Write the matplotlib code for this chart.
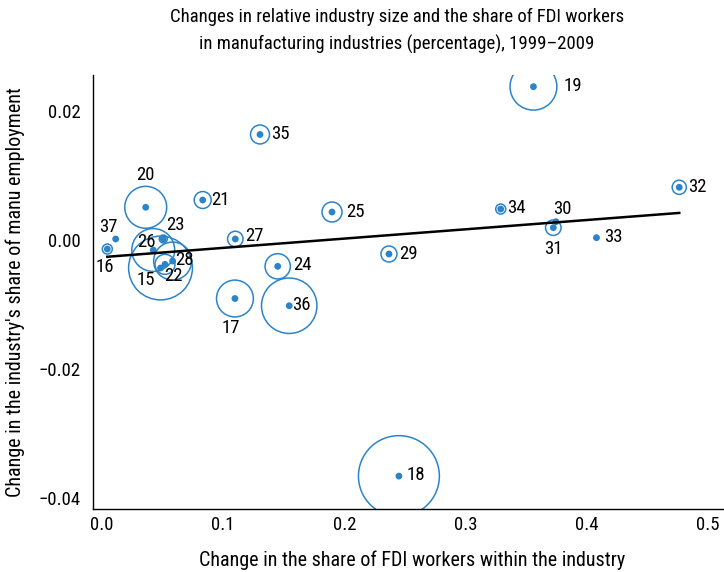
import matplotlib
matplotlib.use("Agg")
import matplotlib.pyplot as plt
from matplotlib import font_manager
import numpy as np

# ---------------- data ----------------
industries = ["15", "16", "17", "18", "19", "20", "21", "22", "23", "24", "25", "26",
              "27", "28", "29", "30", "31", "32", "33", "34", "35", "36", "37"]
fdi_change = [0.0483, 0.0044, 0.1097, 0.2450, 0.3560, 0.0361, 0.0831, 0.0520, 0.0506,
              0.1450, 0.1898, 0.0423, 0.1100, 0.0583, 0.2368, 0.3746, 0.3724, 0.4763,
              0.4080, 0.3290, 0.1304, 0.1545, 0.0113]
share_change = [-0.00434, -0.00140, -0.00907, -0.03660, 0.02377, 0.00507, 0.00620,
                -0.00377, 0.00016, -0.00408, 0.00434, -0.00155, 0.00016, -0.00326,
                -0.00217, 0.00284, 0.00191, 0.00817, 0.00036, 0.00480, 0.01636,
                -0.01019, 0.00016]
# relative industry size (bubble area, arbitrary units)
industry_size = [10.2, 0.25, 3.4, 16.4, 5.5, 4.4, 0.72, 1.0, 0.16, 1.6, 1.0, 4.6,
                 0.6, 3.6, 0.64, 0.04, 0.6, 0.5, 0.04, 0.25, 0.9, 7.7, 0.04]
trend_intercept = -0.00266
trend_slope = 0.0144

# ---------------- fonts ----------------
avail = {f.name for f in font_manager.fontManager.ttflist}
fam = [f for f in ["Liberation Sans Narrow", "Roboto Condensed", "DejaVu Sans"] if f in avail]
plt.rcParams["font.family"] = fam + ["DejaVu Sans"]

blue = "#2b84c9"
FS = 13.5
FS_AX = 14.5

fig = plt.figure(figsize=(7.24, 5.72), dpi=100)
ax = fig.add_axes([93 / 724, 1 - 509 / 572, (723 - 93) / 724, (509 - 75) / 572])

x = np.array(fdi_change)
y = np.array(share_change)
w = np.array(industry_size)

# bubble rings: area proportional to industry size
ax.scatter(x, y, s=w * 207, facecolors="none", edgecolors=blue, linewidths=1.1, zorder=2)
# centre dots
ax.scatter(x, y, s=24, color=blue, edgecolors="none", zorder=3)

# trend line over the data range
xl = np.array([x.min(), x.max()])
ax.plot(xl, trend_intercept + trend_slope * xl, color="black", lw=1.8, zorder=4)

# label offsets in pixels (dx, dy) with dy positive upward
offsets = {
    "15": (-15, -12), "16": (-2, -18), "17": (-4, -29), "18": (17, 1), "19": (39, 1),
    "20": (0, 32), "21": (18, 0), "22": (8, -12), "23": (12, 14), "24": (25, 1),
    "25": (23, 0), "26": (-7, 8), "27": (19, 3), "28": (12, 1), "29": (19, 0),
    "30": (6, 13), "31": (0, -21), "32": (18, 0), "33": (17, 1), "34": (16, 1),
    "35": (20, 0), "36": (12, 1), "37": (-7, 12),
}
for lab, xi, yi in zip(industries, x, y):
    dx, dy = offsets[lab]
    ax.annotate(lab, (xi, yi), xytext=(dx, dy), textcoords="offset pixels",
                ha="center", va="center", fontsize=FS, color="black", zorder=5)

ax.set_xlim(-0.0074, 0.5124)
ax.set_ylim(-0.0417, 0.02558)
ax.set_xticks([0.0, 0.1, 0.2, 0.3, 0.4, 0.5])
ax.set_xticklabels(["0.0", "0.1", "0.2", "0.3", "0.4", "0.5"])
ax.set_yticks([-0.04, -0.02, 0.0, 0.02])
ax.set_yticklabels(["\u22120.04", "\u22120.02", "0.00", "0.02"])
ax.tick_params(axis="both", length=0, labelsize=FS)
ax.tick_params(axis="x", pad=5)
ax.tick_params(axis="y", pad=9)
for sp in ["top", "right"]:
    ax.spines[sp].set_visible(False)
for sp in ["left", "bottom"]:
    ax.spines[sp].set_linewidth(1.0)
    ax.spines[sp].set_color("black")

fig.text(412 / 724, 1 - 560 / 572, "Change in the share of FDI workers within the industry",
         ha="center", va="center", fontsize=FS_AX)
fig.text(15 / 724, 1 - 292 / 572, "Change in the industry's share of manu employment",
         ha="center", va="center", rotation=90, fontsize=FS_AX)

fig.text(397 / 724, 1 - 17 / 572, "Changes in relative industry size and the share of FDI workers",
         ha="center", va="center", fontsize=FS)
fig.text(397 / 724, 1 - 44 / 572, "in manufacturing industries (percentage), 1999\u20132009",
         ha="center", va="center", fontsize=FS)

fig.savefig("out.png", dpi=100)
